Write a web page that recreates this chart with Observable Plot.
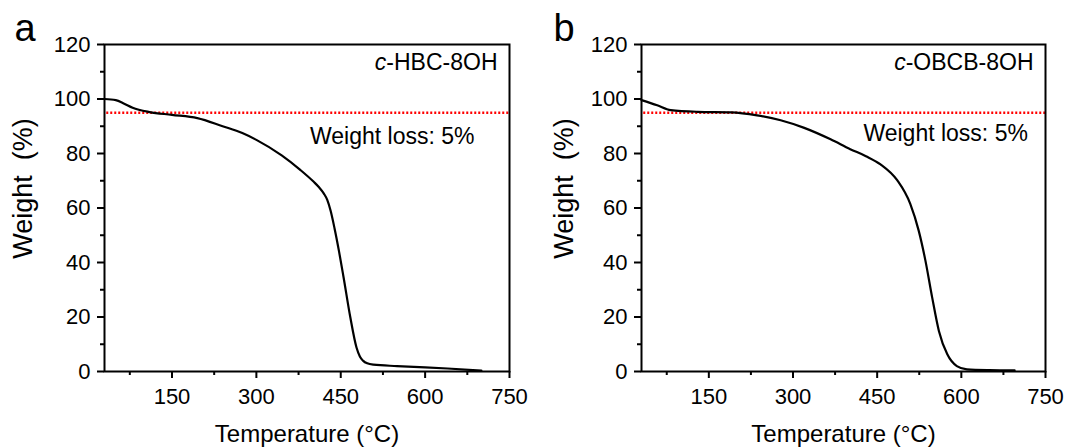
<!DOCTYPE html>
<html><head><meta charset="utf-8">
<script src="https://cdn.jsdelivr.net/npm/d3@7"></script>
<script src="https://cdn.jsdelivr.net/npm/@observablehq/plot@0.6"></script>
<style>
body{margin:0;background:#fff;}
#wrap{display:flex;width:1069px;height:448px;overflow:hidden;}
#wrap svg{display:block;flex:none;}
</style></head><body><div id="wrap"></div>
<script>
// Panel a: c-HBC-8OH
const tempA   = [30, 50, 65, 80, 110, 150, 195, 240, 275, 300, 345, 378, 402, 411, 420, 426, 432, 439, 447, 455, 467, 478, 484, 490, 497, 508, 550, 580, 640, 700];
const weightA = [100, 99.6, 98.3, 96.8, 95.2, 94.2, 93.0, 90.0, 87.5, 85.0, 79.3, 74.0, 69.6, 67.7, 65.3, 63.0, 59.0, 52.5, 44.0, 34.6, 19.9, 8.8, 5.5, 3.9, 3.0, 2.5, 2.0, 1.7, 1.1, 0.3];
// Panel b: c-OBCB-8OH
const tempB   = [30, 58, 82, 130, 190, 236, 278, 320, 367, 402, 430, 456, 486, 509, 524, 536, 548, 560, 575, 592, 610, 650, 695];
const weightB = [99.6, 97.7, 95.9, 95.3, 95.1, 94.0, 92.2, 89.4, 85.2, 81.6, 79.0, 76.0, 70.1, 61.5, 51.7, 40.7, 27.2, 14.9, 6.3, 2.0, 0.8, 0.5, 0.4];

const xMajorTicks = [150, 300, 450, 600, 750];
const xMinorTicks = [75, 225, 375, 525, 675];
const yMajorTicks = [0, 20, 40, 60, 80, 100, 120];
const yMinorTicks = [10, 30, 50, 70, 90, 110];
const lossThreshold = [95];
const panelLetters = ["a", "b"];
const sampleNames = ["c-HBC-8OH", "c-OBCB-8OH"];
const lossLabel = "Weight loss: 5%";
const xTitle = "Temperature (°C)";
const yTitle = "Weight\u00a0\u00a0(%)";

const FONT = "'Liberation Sans', Arial, sans-serif";

function panel(i, temps, weights, o) {
  const data = temps.map((t, k) => ({t, w: weights[k]}));
  const chart = Plot.plot({
    width: o.width, height: 448,
    marginLeft: o.ml, marginRight: o.mr, marginTop: 44, marginBottom: 77,
    style: {fontFamily: FONT, background: "white", color: "black", overflow: "visible"},
    x: {domain: [30, 750], axis: null, label: null},
    y: {domain: [0, 120], axis: null, label: null},
    marks: [
      Plot.ruleY(lossThreshold, {x1: 34, x2: 750, stroke: "#ff0000", strokeWidth: 2.5, strokeDasharray: "2,2"}),
      Plot.line(data, {x: "t", y: "w", stroke: "black", strokeWidth: 2.2, curve: "monotone-x"}),
      Plot.axisX(xMajorTicks, {tickSize: 7, tickPadding: 10, fontSize: 22, strokeWidth: 2, color: "black", label: null}),
      Plot.axisX(xMinorTicks, {tickSize: 4, tickFormat: () => "", strokeWidth: 2, color: "black", label: null}),
      Plot.axisY(yMajorTicks, {tickSize: 7, tickPadding: 7, fontSize: 22, strokeWidth: 2, color: "black", label: null}),
      Plot.axisY(yMinorTicks, {tickSize: 4, tickFormat: () => "", strokeWidth: 2, color: "black", label: null}),
      Plot.frame({stroke: "black", strokeWidth: 2}),
      Plot.text([xTitle], {frameAnchor: "bottom", textAnchor: "middle", lineAnchor: "middle", dy: 62.6, fontSize: 24, fill: "black"}),
      Plot.text([yTitle], {frameAnchor: "left", textAnchor: "middle", lineAnchor: "middle", rotate: -90, dx: o.yTitleDx, dy: -19.5, fontSize: 27, fill: "black"}),
      Plot.text([sampleNames[i]], {frameAnchor: "top-right", textAnchor: "end", lineAnchor: "middle", dx: -12, dy: 18, fontSize: 23, fill: "black"}),
      Plot.text([lossLabel], {frameAnchor: "top-right", textAnchor: "end", lineAnchor: "middle", dx: o.lossDx, dy: o.lossDy, fontSize: 23, fill: "black"}),
      Plot.text([panelLetters[i]], {frameAnchor: "top-left", textAnchor: "start", lineAnchor: "middle", dx: o.letterDx, dy: -16, fontSize: 38, fill: "black"})
    ]
  });
  const name = sampleNames[i];
  d3.select(chart).selectAll("text").filter(function() { return this.textContent === name; }).each(function() {
    const el = d3.select(this);
    el.text("");
    el.append("tspan").attr("font-style", "italic").text(name.slice(0, 1));
    el.append("tspan").text(name.slice(1));
  });
  return chart;
}

const wrap = document.getElementById("wrap");
wrap.appendChild(panel(0, tempA, weightA, {width: 535, ml: 104, mr: 26, yTitleDx: -81, lossDx: -35, lossDy: 91.9, letterDx: -90}));
wrap.appendChild(panel(1, tempB, weightB, {width: 534, ml: 106, mr: 24, yTitleDx: -77.4, lossDx: -17.6, lossDy: 89.2, letterDx: -88}));
</script>
</body></html>
